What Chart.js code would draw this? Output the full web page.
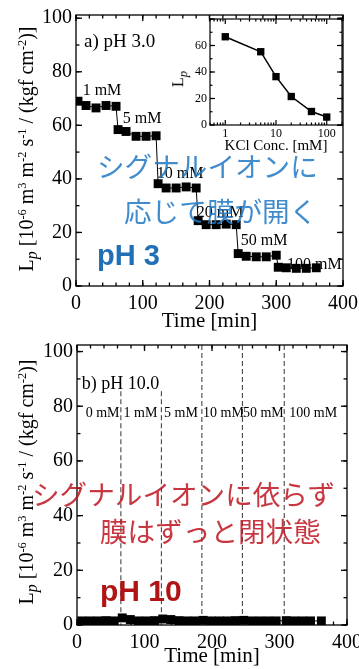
<!DOCTYPE html>
<html>
<head>
<meta charset="utf-8">
<script src="https://cdn.jsdelivr.net/npm/chart.js@4.4.1/dist/chart.umd.min.js"></script>
<style>
  html, body { margin: 0; padding: 0; background: #fff; width: 359px; height: 669px; overflow: hidden; }
  canvas { position: absolute; display: block; }
  .ytitle { position: absolute; white-space: nowrap; font-family: 'Liberation Serif', serif; font-size: 20px; color: #000;
            line-height: 1; transform: translate(-50%, -50%) rotate(-90deg); }
  .ytitle sup { font-size: 0.62em; vertical-align: 0.55em; }
  .ytitle sub { font-size: 0.8em; vertical-align: -0.3em; }
  .jp { position: absolute; white-space: nowrap; font-family: 'Noto Sans CJK JP', sans-serif; font-size: 27.6px; line-height: 1; }
  .ph { position: absolute; white-space: nowrap; font-family: 'Liberation Sans', Arial, sans-serif; font-weight: bold; line-height: 1; }
</style>
</head>
<body>
<canvas id="chartA" width="359" height="340" style="left:0;top:0"></canvas>
<canvas id="inset" width="189" height="150" style="left:170px;top:10px"></canvas>
<canvas id="chartB" width="359" height="339" style="left:0;top:330px"></canvas>

<div class="ytitle" style="left:28px;top:149px">L<sub><i>p</i></sub> [10<sup>-6</sup> m<sup>3</sup> m<sup>-2</sup> s<sup>-1</sup> / (kgf cm<sup>-2</sup>)]</div>
<div class="ytitle" style="left:28px;top:482px">L<sub><i>p</i></sub> [10<sup>-6</sup> m<sup>3</sup> m<sup>-2</sup> s<sup>-1</sup> / (kgf cm<sup>-2</sup>)]</div>
<div class="ytitle" style="left:180px;top:79px;font-size:16px">L<sub><i>p</i></sub></div>

<div class="jp" style="left:97px;top:152px;color:rgba(30,120,195,0.85)">シグナルイオンに</div>
<div class="jp" style="left:124px;top:197px;color:rgba(30,120,195,0.85)">応じて膜が開く</div>
<div class="ph" style="left:97px;top:241px;font-size:29px;color:#2170b5">pH 3</div>

<div class="jp" style="left:32px;top:480px;color:rgba(190,20,30,0.85)">シグナルイオンに依らず</div>
<div class="jp" style="left:100px;top:517px;color:rgba(190,20,30,0.85)">膜はずっと閉状態</div>
<div class="ph" style="left:100px;top:576px;font-size:30px;color:#b01414">pH 10</div>

<script>
// a) pH 3.0 : time course
const timeA = [3, 15, 30, 45, 60, 63, 75, 90, 105, 120, 123, 135, 150, 165, 180,
               183, 195, 210, 225, 240, 243, 255, 270, 285, 300, 303, 315, 330, 345, 360];
const lpA = [69.0, 67.4, 66.5, 67.4, 67.1, 58.4, 57.7, 55.9, 55.9, 56.1,
             38.2, 36.6, 36.6, 37.0, 36.6, 24.4, 22.9, 22.9, 23.1, 22.9,
             12.1, 11.1, 10.9, 10.9, 11.5, 7.0, 6.8, 6.6, 6.6, 6.8];
const concLabelsA = ['1 mM', '5 mM', '10 mM', '20 mM', '50 mM', '100 mM'];

// inset: Lp vs KCl
const kclConc = [1, 5, 10, 20, 50, 100];
const lpInset = [66.6, 55.3, 36.5, 21.5, 10.2, 6.0];

// b) pH 10.0 : time course
const timeB = [7, 19, 31, 43, 55, 67, 79, 91, 103, 115, 127, 139, 151, 163, 175,
               187, 199, 211, 223, 235, 247, 259, 271, 283, 295, 310, 322, 334, 346, 362];
const lpB = [1.5, 1.5, 1.5, 1.6, 1.5, 2.6, 2.0, 1.5, 1.5, 1.6, 2.2, 2.0, 1.6, 1.5, 1.5,
             1.7, 1.5, 1.5, 1.5, 1.6, 1.7, 1.5, 1.5, 1.5, 1.5, 1.6, 1.5, 1.5, 1.5, 1.5];
const switchTimesB = [65, 125, 185, 245, 307];
const concLabelsB = ['0 mM', '1 mM', '5 mM', '10 mM', '50 mM', '100 mM'];

const xTicks = [0, 100, 200, 300, 400];
const yTicks = [0, 20, 40, 60, 80, 100];

const serif = "'Liberation Serif', 'Times New Roman', serif";

function range(a, b, step) {
  const out = [];
  for (let v = a; v <= b + 1e-9; v += step) out.push(v);
  return out;
}

// box + inward ticks on all four sides
const frame = {
  id: 'frame',
  beforeDraw(chart, args, o) {
    if (!o.fill) return;
    const a = chart.chartArea, ctx = chart.ctx;
    ctx.save();
    ctx.fillStyle = o.fill;
    ctx.fillRect(a.left, a.top, a.width, a.height);
    ctx.restore();
  },
  afterDraw(chart, args, o) {
    const {ctx, chartArea: a, scales} = chart;
    const sx = scales.x, sy = scales.y;
    ctx.save();
    ctx.strokeStyle = '#000';
    ctx.lineWidth = o.width || 1.3;
    const line = (x1, y1, x2, y2) => { ctx.beginPath(); ctx.moveTo(x1, y1); ctx.lineTo(x2, y2); ctx.stroke(); };
    let xMaj, xMin;
    if (o.log) {
      xMaj = []; xMin = [];
      for (let d = -1; d <= 2; d++) {
        for (let m = 1; m <= 9; m++) {
          const v = m * Math.pow(10, d);
          if (v < sx.min || v > sx.max) continue;
          (m === 1 ? xMaj : xMin).push(v);
        }
      }
    } else {
      xMaj = range(sx.min, sx.max, o.xMajor);
      xMin = range(sx.min, sx.max, o.xMinor);
    }
    const top = o.yTop !== undefined ? o.yTop : sy.max;
    const yMaj = range(sy.min, top, o.yMajor);
    const yMin = range(sy.min, top, o.yMinor);
    const big = o.major || 6, small = o.minor || 3.5;
    xMin.forEach(v => { const p = sx.getPixelForValue(v); line(p, a.bottom, p, a.bottom - small); line(p, a.top, p, a.top + small); });
    xMaj.forEach(v => { const p = sx.getPixelForValue(v); line(p, a.bottom, p, a.bottom - big); line(p, a.top, p, a.top + big); });
    yMin.forEach(v => { const p = sy.getPixelForValue(v); line(a.left, p, a.left + small, p); line(a.right, p, a.right - small, p); });
    yMaj.forEach(v => { const p = sy.getPixelForValue(v); line(a.left, p, a.left + big, p); line(a.right, p, a.right - big, p); });
    ctx.strokeRect(a.left, a.top, a.width, a.height);
    ctx.restore();
  }
};

// text labels placed in data coordinates
const notes = {
  id: 'notes',
  afterDraw(chart, args, o) {
    if (!o.items) return;
    const {ctx, scales} = chart;
    ctx.save();
    ctx.fillStyle = '#000';
    ctx.textBaseline = 'middle';
    o.items.forEach(n => {
      ctx.font = n.size + 'px ' + serif;
      ctx.textAlign = n.align || 'left';
      ctx.fillText(n.text, scales.x.getPixelForValue(n.x), scales.y.getPixelForValue(n.y));
    });
    ctx.restore();
  }
};

// dashed vertical lines at the concentration switches
const vlines = {
  id: 'vlines',
  beforeDatasetsDraw(chart, args, o) {
    if (!o.lines) return;
    const {ctx, scales} = chart;
    ctx.save();
    ctx.strokeStyle = '#333';
    ctx.lineWidth = 1;
    ctx.setLineDash([5, 3]);
    o.lines.forEach(l => {
      const x = scales.x.getPixelForValue(l.t);
      ctx.beginPath();
      ctx.moveTo(x, l.top === null ? chart.chartArea.top : scales.y.getPixelForValue(l.top));
      ctx.lineTo(x, scales.y.getPixelForValue(0));
      ctx.stroke();
    });
    ctx.restore();
  }
};

function mainChart(id, times, values, o) {
  return new Chart(document.getElementById(id), {
    type: 'line',
    data: {
      datasets: [{
        data: times.map((t, i) => ({x: t, y: values[i]})),
        borderColor: '#000', borderWidth: 1, tension: 0,
        pointStyle: 'rect', pointRadius: 6.3, pointBackgroundColor: '#000', pointBorderWidth: 0
      }]
    },
    options: {
      responsive: false, animation: false, devicePixelRatio: 1,
      layout: {padding: o.pad},
      plugins: {
        legend: {display: false}, tooltip: {enabled: false},
        frame: {xMajor: 100, xMinor: 20, yMajor: 20, yMinor: 10, yTop: 100},
        notes: {items: o.notes},
        vlines: {lines: o.lines}
      },
      scales: {
        x: {
          type: 'linear', min: 0, max: 400,
          afterBuildTicks: s => { s.ticks = xTicks.map(v => ({value: v})); },
          grid: {display: false, drawTicks: false}, border: {display: false},
          ticks: {font: {family: serif, size: 20}, color: '#000', padding: 6, maxRotation: 0},
          title: {display: true, text: 'Time [min]', font: {family: serif, size: 21}, color: '#000', padding: 0},
          afterFit(s) { s.height = o.xh; s.paddingLeft = 0; s.paddingRight = 0; }
        },
        y: {
          min: 0, max: o.ymax,
          afterBuildTicks: s => { s.ticks = yTicks.map(v => ({value: v})); },
          grid: {display: false, drawTicks: false}, border: {display: false},
          ticks: {font: {family: serif, size: 20}, color: '#000', padding: 4},
          afterFit(s) { s.width = o.yw; s.paddingTop = 0; s.paddingBottom = 0; }
        }
      }
    },
    plugins: [frame, notes, vlines]
  });
}

const notesA = [
  {text: 'a) pH 3.0', x: 12, y: 91, size: 19},
  {text: concLabelsA[0], x: 10, y: 73, size: 16},
  {text: concLabelsA[1], x: 70, y: 62.4, size: 16},
  {text: concLabelsA[2], x: 121, y: 41.8, size: 16},
  {text: concLabelsA[3], x: 181, y: 27.2, size: 16},
  {text: concLabelsA[4], x: 247, y: 16.7, size: 16},
  {text: concLabelsA[5], x: 316, y: 8.1, size: 16}
];
mainChart('chartA', timeA, lpA, {pad: {top: 15, right: 16, bottom: 6, left: 0}, xh: 48, yw: 76, ymax: 101.2, notes: notesA});

const segMid = [38, 94, 154, 217, 276, 350];
const notesB = [{text: 'b) pH 10.0', x: 7, y: 88, size: 18}]
  .concat(concLabelsB.map((c, i) => ({text: c, x: segMid[i], y: 77.5, size: 14, align: 'center'})));
const linesB = switchTimesB.map((t, i) => ({t: t, top: i < 2 ? 85.5 : null}));
mainChart('chartB', timeB, lpB, {pad: {top: 15, right: 12, bottom: 0, left: 0}, xh: 44, yw: 77, ymax: 102.4, notes: notesB, lines: linesB});

// inset
new Chart(document.getElementById('inset'), {
  type: 'line',
  data: {
    datasets: [{
      data: kclConc.map((c, i) => ({x: c, y: lpInset[i]})),
      borderColor: '#000', borderWidth: 1.5, tension: 0,
      pointStyle: 'rect', pointRadius: 5.2, pointBackgroundColor: '#000', pointBorderWidth: 0
    }]
  },
  options: {
    responsive: false, animation: false, devicePixelRatio: 1,
    layout: {padding: {top: 9, right: 17, bottom: 5, left: 0}},
    plugins: {
      legend: {display: false}, tooltip: {enabled: false},
      frame: {log: true, yMajor: 20, yMinor: 10, major: 5, minor: 2.5, width: 1.2, fill: '#fff'}
    },
    scales: {
      x: {
        type: 'logarithmic', min: 0.5, max: 200,
        afterBuildTicks: s => { s.ticks = [1, 10, 100].map(v => ({value: v})); },
        grid: {display: false, drawTicks: false}, border: {display: false},
        ticks: {font: {family: serif, size: 12}, color: '#000', padding: 2, maxRotation: 0, autoSkip: false,
                callback: v => String(v)},
        title: {display: true, text: 'KCl Conc. [mM]', font: {family: serif, size: 15}, color: '#000', padding: 0},
        afterFit(s) { s.height = 30; s.paddingLeft = 0; s.paddingRight = 0; }
      },
      y: {
        min: 0, max: 80,
        afterBuildTicks: s => { s.ticks = [0, 20, 40, 60].map(v => ({value: v})); },
        grid: {display: false, drawTicks: false}, border: {display: false},
        ticks: {font: {family: serif, size: 12}, color: '#000', padding: 3},
        afterFit(s) { s.width = 40; s.paddingTop = 0; s.paddingBottom = 0; }
      }
    }
  },
  plugins: [frame]
});
</script>
</body>
</html>
